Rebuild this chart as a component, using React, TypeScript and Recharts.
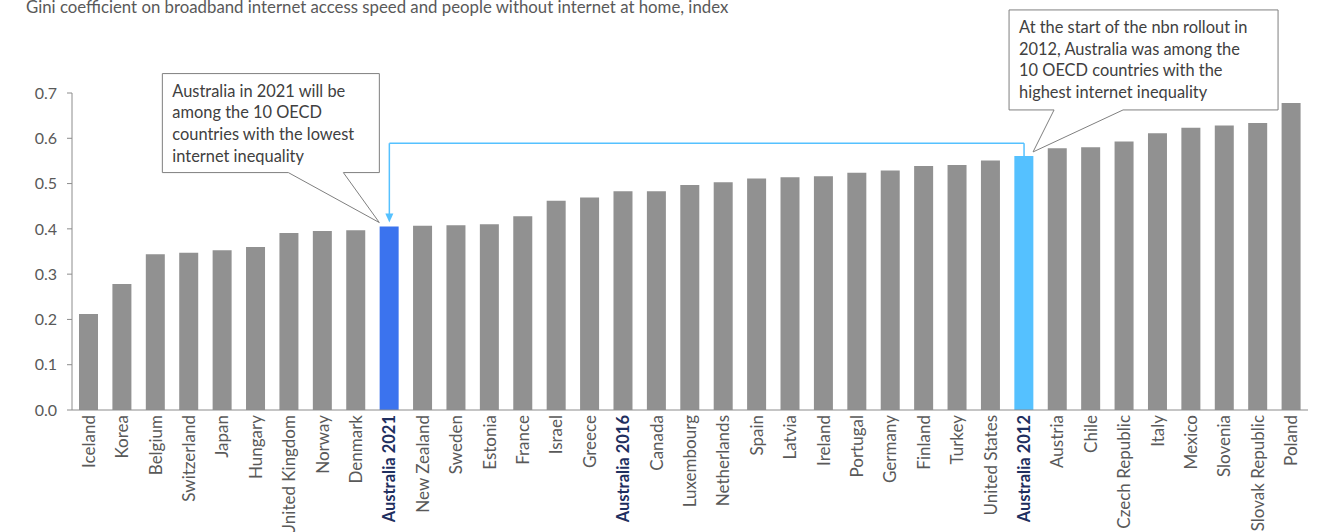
import { BarChart, Bar, XAxis, YAxis, Cell, ReferenceLine, ReferenceDot } from "recharts";

const countries = [
  "Iceland", "Korea", "Belgium", "Switzerland", "Japan", "Hungary", "United Kingdom", "Norway", "Denmark",
  "Australia 2021", "New Zealand", "Sweden", "Estonia", "France", "Israel", "Greece", "Australia 2016",
  "Canada", "Luxembourg", "Netherlands", "Spain", "Latvia", "Ireland", "Portugal", "Germany", "Finland",
  "Turkey", "United States", "Australia 2012", "Austria", "Chile", "Czech Republic", "Italy", "Mexico",
  "Slovenia", "Slovak Republic", "Poland",
];

const gini = [
  0.212, 0.278, 0.344, 0.347, 0.353, 0.36, 0.391, 0.395, 0.397,
  0.405, 0.407, 0.408, 0.41, 0.428, 0.462, 0.469, 0.483,
  0.483, 0.497, 0.503, 0.511, 0.514, 0.516, 0.524, 0.529, 0.539,
  0.541, 0.551, 0.561, 0.578, 0.58, 0.593, 0.611, 0.623,
  0.628, 0.634, 0.678,
];

const yTicks = [0, 0.1, 0.2, 0.3, 0.4, 0.5, 0.6, 0.7];

const note2021 = ["Australia in 2021 will be", "among the 10 OECD", "countries with the lowest", "internet inequality"];
const note2012 = ["At the start of the nbn rollout in", "2012, Australia was among the", "10 OECD countries with the", "highest internet inequality"];

const connectorLevel = 0.589;

const data = countries.map((name, i) => ({ name, value: gini[i] }));

const FONT = "Lato, 'Open Sans', sans-serif";
const GREY = "#919191";
const TEXT = "#595959";

const barColor = (name: string) => {
  if (name === "Australia 2021") return "#3B73EE";
  if (name === "Australia 2012") return "#55C1FF";
  return GREY;
};

const XTick = (props: any) => {
  const { x, y, payload } = props;
  const bold = String(payload.value).startsWith("Australia");
  return (
    <text
      x={0}
      y={0}
      transform={`translate(${x + 6},${y - 3}) rotate(-90)`}
      textAnchor="end"
      fontSize={bold ? 16.5 : 17}
      fontFamily={FONT}
      fontWeight={bold ? 700 : 400}
      fill={bold ? "#1F2F5F" : TEXT}
    >
      {payload.value}
    </text>
  );
};

// callout box with a pointer ending near (cx, cy)
const callout = (lines: string[], box: { l: number; r: number; t: number; b: number; p1: number; p2: number; tx: number; ty: number }) =>
  (props: any) => {
    const { cx, cy } = props;
    const L = cx + box.l, R = cx + box.r, T = cy + box.t, B = cy + box.b;
    const tipX = cx + box.tx, tipY = cy + box.ty;
    const d = `M${L},${T} L${R},${T} L${R},${B} L${cx + box.p2},${B} L${tipX},${tipY} L${cx + box.p1},${B} L${L},${B} Z`;
    return (
      <g>
        <path d={d} fill="#fff" stroke="#7f7f7f" strokeWidth={1} />
        {lines.map((ln, i) => (
          <text key={i} x={L + 10} y={T + 23 + i * 21.7} fontSize={16.4} fontFamily={FONT} fill="#404040">
            {ln}
          </text>
        ))}
      </g>
    );
  };

const Note2021 = (props: any) => {
  const { cx, cy } = props;
  return (
    <g>
      <path d={`M${cx - 4},${cy - 13} L${cx + 4},${cy - 13} L${cx},${cy - 4} Z`} fill="#55C1FF" />
      {callout(note2021, { l: -227, r: -10, t: -153, b: -54, p1: -101, p2: -46, tx: -10, ty: -4 })(props)}
    </g>
  );
};

const Note2012 = callout(note2012, { l: -15, r: 254, t: -146, b: -46, p1: 30, p2: 99, tx: 9, ty: -4 });

export default function App() {
  return (
    <div style={{ position: "absolute", left: 0, top: 0, width: 1326, height: 532, background: "#fff", overflow: "hidden" }}>
      <div
        style={{
          position: "absolute",
          left: 26,
          top: -4,
          fontFamily: FONT,
          fontSize: 16.8,
          color: TEXT,
          whiteSpace: "nowrap",
        }}
      >
        Gini coefficient on broadband internet access speed and people without internet at home, index
      </div>
      <BarChart width={1326} height={532} data={data} margin={{ top: 93, right: 18, bottom: 0, left: 0 }}>
        <XAxis
          dataKey="name"
          interval={0}
          height={122}
          tickLine={false}
          axisLine={{ stroke: "#8c8c8c" }}
          tick={<XTick />}
        />
        <YAxis
          domain={[0, 0.7]}
          ticks={yTicks}
          width={72}
          tickSize={5}
          tickMargin={10}
          axisLine={{ stroke: "#8c8c8c" }}
          tickLine={{ stroke: "#8c8c8c" }}
          tickFormatter={(v: number) => v.toFixed(1)}
          tick={{ fontSize: 16, fontFamily: FONT, fill: TEXT }}
        />
        <Bar dataKey="value" barSize={19} isAnimationActive={false}>
          {data.map((d) => (
            <Cell key={d.name} fill={barColor(d.name)} />
          ))}
        </Bar>
        <ReferenceLine
          segment={[{ x: "Australia 2012", y: gini[28] }, { x: "Australia 2012", y: connectorLevel }]}
          stroke="#55C1FF"
          strokeWidth={1.5}
        />
        <ReferenceLine
          segment={[{ x: "Australia 2012", y: connectorLevel }, { x: "Australia 2021", y: connectorLevel }]}
          stroke="#55C1FF"
          strokeWidth={1.5}
        />
        <ReferenceLine
          segment={[{ x: "Australia 2021", y: connectorLevel }, { x: "Australia 2021", y: 0.43 }]}
          stroke="#55C1FF"
          strokeWidth={1.5}
        />
        <ReferenceDot x="Australia 2021" y={gini[9]} r={0} shape={<Note2021 />} ifOverflow="visible" />
        <ReferenceDot x="Australia 2012" y={gini[28]} r={0} shape={<Note2012 />} ifOverflow="visible" />
      </BarChart>
    </div>
  );
}
